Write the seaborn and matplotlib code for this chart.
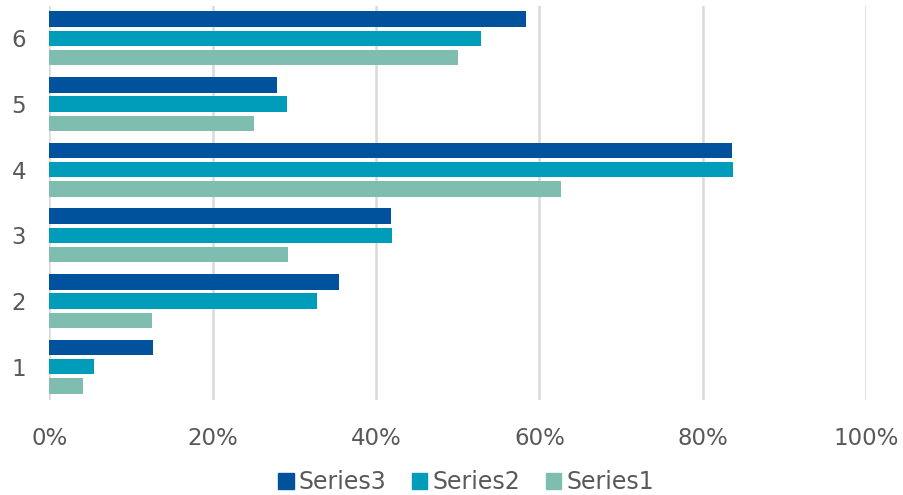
import matplotlib
matplotlib.use("Agg")
import matplotlib.pyplot as plt
import seaborn as sns
import pandas as pd
import numpy as np

categories = ["1", "2", "3", "4", "5", "6"]
series1 = [4.1, 12.6, 29.2, 62.6, 25.1, 50.0]
series2 = [5.5, 32.8, 41.9, 83.7, 29.1, 52.8]
series3 = [12.7, 35.5, 41.8, 83.6, 27.9, 58.3]
series_names = ["Series3", "Series2", "Series1"]
colors = {"Series3": "#00529C", "Series2": "#009DBB", "Series1": "#80BDB1"}
x_ticks = [0, 20, 40, 60, 80, 100]

rows = []
for name, vals in (("Series1", series1), ("Series2", series2), ("Series3", series3)):
    for c, v in zip(categories, vals):
        rows.append({"cat": c, "series": name, "value": v})
df = pd.DataFrame(rows)

sns.set_theme(style="white")
plt.rcParams["font.family"] = ["DejaVu Sans"]

fig = plt.figure(figsize=(9.04, 4.95), dpi=100)
ax = fig.add_axes([49.5 / 904, 95.4 / 495, 816.5 / 904, 394 / 495])

sns.barplot(data=df, x="value", y="cat", hue="series",
            order=categories[::-1], hue_order=series_names,
            palette=colors, orient="h", width=0.882, gap=0.2,
            errorbar=None, ax=ax, zorder=3, saturation=1, linewidth=0)

ax.set_xlim(0, 100)
ax.set_xticks(x_ticks)
ax.set_xticklabels([f"{t}%" for t in x_ticks])
ax.xaxis.grid(True, color="#D9D9D9", linewidth=1.8, zorder=0)
ax.set_axisbelow(True)
for s in ax.spines.values():
    s.set_visible(False)
ax.set_xlabel("")
ax.set_ylabel("")
ax.tick_params(axis="both", length=0, labelsize=16.5, colors="#595959")
ax.tick_params(axis="x", pad=20)
ax.tick_params(axis="y", pad=17)

ax.legend_.remove()
handles = [plt.Rectangle((0, 0), 1, 1, color=colors[n]) for n in series_names]
fig.legend(handles, series_names, loc="center", bbox_to_anchor=(466 / 904, 1 - 482 / 495),
           ncol=3, frameon=False, fontsize=17, labelcolor="#595959",
           handlelength=0.65, handleheight=0.65, handletextpad=0.2, columnspacing=1.1,
           borderpad=0.1)

fig.savefig("out.png", dpi=100)
